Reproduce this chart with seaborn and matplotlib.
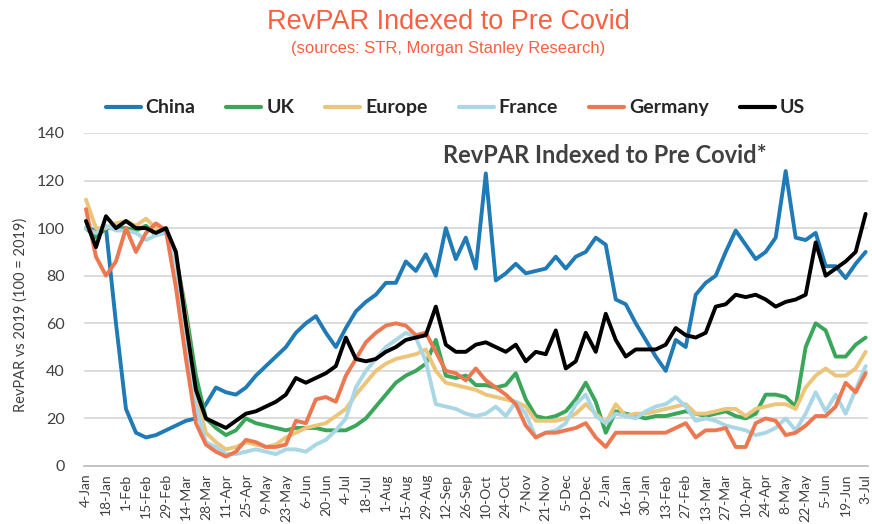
import pandas as pd
import matplotlib
matplotlib.use("Agg")
import matplotlib.pyplot as plt
from matplotlib.lines import Line2D
import seaborn as sns

# weekly points, 4-Jan-2020 .. 3-Jul-2021
weeks = pd.date_range("2020-01-04", periods=79, freq="7D")
tick_labels = [f"{d.day}-{d.strftime('%b')}" for d in weeks[::2]]

china = [100, 99, 100, 60, 24, 14, 12, 13, 15, 17, 19, 20, 26, 33, 31, 30, 33, 38, 42, 46,
         50, 56, 60, 63, 56, 50, 58, 65, 69, 72, 77, 77, 86, 82, 89, 80, 100, 87, 96, 83,
         123, 78, 81, 85, 81, 82, 83, 88, 83, 88, 90, 96, 93, 70, 68, 60, 53, 46, 40, 53,
         50, 72, 77, 80, 90, 99, 93, 87, 90, 96, 124, 96, 95, 98, 84, 84, 79, 85, 90]
uk = [100, 96, 100, 100, 100, 99, 101, 97, 99, 88, 65, 38, 20, 16, 13, 15, 20, 18, 17, 16,
      15, 16, 16, 16, 15, 15, 15, 17, 20, 25, 30, 35, 38, 40, 43, 53, 38, 37, 38, 34,
      34, 33, 34, 39, 28, 21, 20, 21, 23, 28, 35, 27, 14, 23, 22, 21, 20, 21, 21, 22,
      23, 22, 21, 22, 23, 21, 20, 22, 30, 30, 29, 25, 50, 60, 57, 46, 46, 51, 54]
europe = [112, 100, 100, 102, 103, 101, 104, 100, 100, 88, 62, 30, 14, 10, 7, 8, 10, 9, 8, 9,
          12, 14, 16, 17, 18, 21, 24, 30, 35, 40, 43, 45, 46, 47, 49, 40, 35, 34, 33, 32,
          30, 29, 28, 27, 25, 19, 19, 19, 20, 22, 26, 22, 18, 26, 21, 22, 22, 23, 24, 25,
          26, 22, 22, 23, 24, 24, 21, 24, 25, 26, 26, 24, 33, 38, 41, 38, 38, 41, 48]
france = [100, 98, 101, 99, 99, 98, 95, 97, 98, 85, 55, 25, 10, 8, 5, 5, 6, 7, 6, 5,
          7, 7, 6, 9, 11, 15, 20, 33, 40, 45, 50, 53, 56, 54, 44, 26, 25, 24, 22, 21,
          22, 25, 21, 27, 22, 12, 14, 15, 18, 26, 30, 21, 18, 22, 21, 20, 23, 25, 26, 29,
          25, 19, 20, 19, 17, 16, 15, 13, 14, 16, 20, 15, 22, 31, 23, 30, 22, 32, 42]
germany = [108, 88, 80, 86, 100, 90, 98, 102, 99, 75, 45, 18, 9, 6, 4, 6, 11, 10, 8, 8,
           9, 19, 18, 28, 29, 27, 38, 45, 52, 56, 59, 60, 59, 55, 56, 48, 40, 39, 36, 41,
           36, 33, 30, 26, 17, 12, 14, 14, 15, 16, 18, 12, 8, 14, 14, 14, 14, 14, 14, 16,
           18, 12, 15, 15, 16, 8, 8, 18, 20, 19, 13, 14, 17, 21, 21, 25, 35, 31, 39]
us = [103, 92, 105, 100, 103, 100, 100, 98, 100, 90, 60, 32, 20, 18, 16, 19, 22, 23, 25, 27,
      30, 37, 35, 37, 39, 42, 54, 45, 44, 45, 48, 50, 53, 54, 55, 67, 51, 48, 48, 51,
      52, 50, 48, 51, 44, 48, 47, 57, 41, 44, 56, 48, 64, 53, 46, 49, 49, 49, 51, 58,
      55, 54, 56, 67, 68, 72, 71, 72, 70, 67, 69, 70, 72, 94, 80, 83, 86, 90, 106]

countries = ["China", "UK", "Europe", "France", "Germany", "US"]
colors = ["#1f7ab5", "#3aa65a", "#ecc57a", "#a9d7e6", "#ec7852", "#000000"]

df = pd.DataFrame({"week": range(len(weeks)), "China": china, "UK": uk, "Europe": europe,
                   "France": france, "Germany": germany, "US": us})
long = df.melt(id_vars="week", var_name="country", value_name="revpar")

sns.set_style("white")
plt.rcParams["font.family"] = ["Lato", "DejaVu Sans"]

fig = plt.figure(figsize=(8.72, 5.24), dpi=100)
ax = fig.add_axes([0.0963, 0.1107, 0.8987, 0.6355])
sns.lineplot(data=long, x="week", y="revpar", hue="country", hue_order=countries,
             palette=colors, linewidth=2.8, ax=ax, legend=False)
for ln in ax.lines:
    ln.set_solid_joinstyle("round")

ax.set_xlim(-0.2, 78.2)
ax.set_ylim(0, 140)
ax.set_yticks(range(0, 141, 20))
ax.yaxis.grid(True, color="#d9d9d9", linewidth=1.3)
ax.set_axisbelow(True)
ax.set_xticks(range(0, len(weeks), 2))
ax.set_xticklabels(tick_labels, rotation=90, fontsize=10, color="#404040")
ax.tick_params(axis="y", labelsize=11.5, colors="#404040", length=0, pad=14)
ax.tick_params(axis="x", length=4, color="#bfbfbf", width=1, pad=1.5)
for s in ["top", "right", "left"]:
    ax.spines[s].set_visible(False)
ax.spines["bottom"].set_color("#bfbfbf")
ax.spines["bottom"].set_linewidth(1.3)
ax.set_xlabel("")
ax.set_ylabel("")

fig.text(0.023, 0.40, "RevPAR vs 2019 (100 = 2019)", rotation=90, ha="center", va="center",
         fontsize=10.5, color="#404040")

fig.text(0.514, 0.958, "RevPAR Indexed to Pre Covid", ha="center", va="center",
         fontsize=19.5, color="#f9603f", family=["Liberation Sans Narrow", "Liberation Sans"])
fig.text(0.514, 0.908, "(sources: STR, Morgan Stanley Research)", ha="center", va="center",
         fontsize=12, color="#f9603f", family=["Liberation Sans Narrow", "Liberation Sans"])

fig.text(0.508, 0.704, "RevPAR Indexed to Pre Covid*", ha="left", va="center",
         fontsize=17, fontweight="bold", color="#404040")

handles = [Line2D([0], [0], color=c, linewidth=3) for c in colors]
fig.legend(handles, countries, loc="center", bbox_to_anchor=(0.522, 0.794), ncol=6,
           frameon=False, handlelength=1.8, handletextpad=0.25, columnspacing=1.6,
           prop={"weight": "bold", "size": 14})

fig.savefig("out.png", dpi=100)
